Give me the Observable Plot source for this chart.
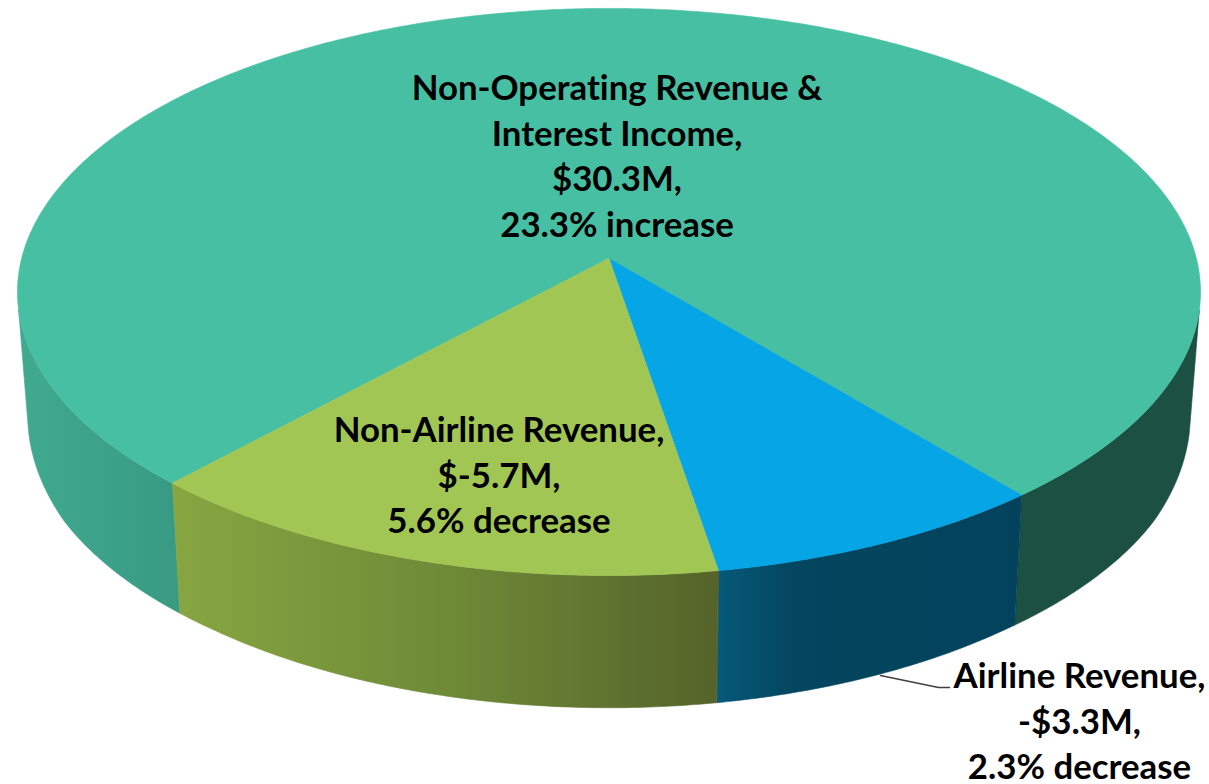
<!DOCTYPE html>
<html>
<head>
<meta charset="utf-8">
<script src="https://cdn.jsdelivr.net/npm/d3@7"></script>
<script src="https://cdn.jsdelivr.net/npm/@observablehq/plot@0.6"></script>
<style>html,body{margin:0;padding:0;background:#fff}svg{display:block}</style>
</head>
<body>
<script>
// Data, clockwise from the pie's first slice
const categories = ["Airline Revenue", "Non-Airline Revenue", "Non-Operating Revenue & Interest Income"];
const amounts = [3.3, 5.7, 30.3];
const amountLabels = ["-$3.3M", "$-5.7M", "$30.3M"];
const changeLabels = ["2.3% decrease", "5.6% decrease", "23.3% increase"];

// Styles
const topColors = ["#05a5e6", "#a2c653", "#47bfa3"];
const rightWallColor = "#1c5042";
const gradients = {
  blueWall: [[0, "#05597a"], [0.25, "#04465f"], [1, "#03425c"]],
  greenWall: [[0, "#87a641"], [0.5, "#6f8a37"], [1, "#55632a"]],
  tealWall: [[0, "#40aa8f"], [1, "#389a83"]]
};

// Perspective of the disc
const W = 1209, H = 784;
const cx = 608.5, cy = 258, a = 587.4, b = 279.6, k = 0.118;
const firstAngle = 140.3, wallShrink = 0.983, sideV = 0.18;
const rad = Math.PI / 180;

const project = (deg) => {
  const u = Math.sin(deg * rad), v = -Math.cos(deg * rad), w = 1 - k * v;
  return {x: cx + a * u / w, y: cy + b * v / w};
};
const lower = (p) => ({
  x: cx + wallShrink * (p.x - cx),
  y: p.y + Math.min(130, 123 + (p.y - 310) * 0.0875) + Math.max(0, (p.y - 500) * 0.03)
});
const arc = (from, to) => {
  const n = Math.max(2, Math.ceil(Math.abs(to - from) * 2));
  return d3.range(n + 1).map((i) => project(from + (to - from) * i / n));
};
const wall = (from, to) => {
  const top = arc(from, to);
  return [...top, ...top.map(lower).reverse()];
};

const total = d3.sum(amounts);
let acc = firstAngle;
const slices = categories.map((name, i) => {
  const start = acc;
  acc += amounts[i] / total * 360;
  return {name, start, end: acc};
});
const [blue, green, teal] = slices;
const sideDeg = Math.acos(-sideV) / rad;   // angle from the top where the side silhouette meets the wall

const topPoly = (s) => [{x: cx, y: cy}, ...arc(s.start, s.end)];
const poly = (pts, fill) => Plot.line(pts, {x: "x", y: "y", fill, stroke: fill, strokeWidth: 0.6, curve: "linear-closed"});

const defs = () => {
  const d = d3.create("svg:defs");
  for (const [id, stops] of Object.entries(gradients)) {
    const g = d.append("linearGradient").attr("id", id).attr("x1", 0).attr("x2", 1).attr("y1", 0).attr("y2", 0);
    for (const [o, c] of stops) g.append("stop").attr("offset", o).attr("stop-color", c);
  }
  return d.node();
};

const labels = [
  {text: `${categories[2].replace("& ", "&\n")},\n${amountLabels[2]},\n${changeLabels[2]}`, x: 616.5, y: 153.5},
  {text: `${categories[1]},\n${amountLabels[1]},\n${changeLabels[1]}`, x: 498.5, y: 472.5},
  {text: `${categories[0]},\n${amountLabels[0]},\n${changeLabels[0]}`, x: 1079, y: 718.5}
];
const leader = [{x: 880, y: 675}, {x: 938, y: 687}, {x: 949, y: 687}];

const chart = Plot.plot({
  width: W, height: H,
  margin: 0,
  x: {domain: [0, W], range: [0, W], axis: null},
  y: {domain: [0, H], range: [0, H], axis: null},
  style: {background: "#fff", fontVariantLigatures: "none"},
  marks: [
    defs,
    poly(wall(teal.end - 360, sideDeg), rightWallColor),
    poly(wall(360 - sideDeg, teal.start), "url(#tealWall)"),
    poly(wall(blue.start, blue.end), "url(#blueWall)"),
    poly(wall(green.start, green.end), "url(#greenWall)"),
    poly(topPoly(teal), topColors[2]),
    poly(topPoly(blue), topColors[0]),
    poly(topPoly(green), topColors[1]),
    Plot.line(leader, {x: "x", y: "y", stroke: "#404040", strokeWidth: 1.5}),
    Plot.text(labels, {
      x: "x", y: "y", text: "text",
      fontFamily: "Lato", fontWeight: "bold", fontSize: 34.8,
      lineHeight: 1.31, fill: "#000", textAnchor: "middle", lineAnchor: "middle"
    })
  ]
});
document.body.append(chart);
</script>
</body>
</html>
